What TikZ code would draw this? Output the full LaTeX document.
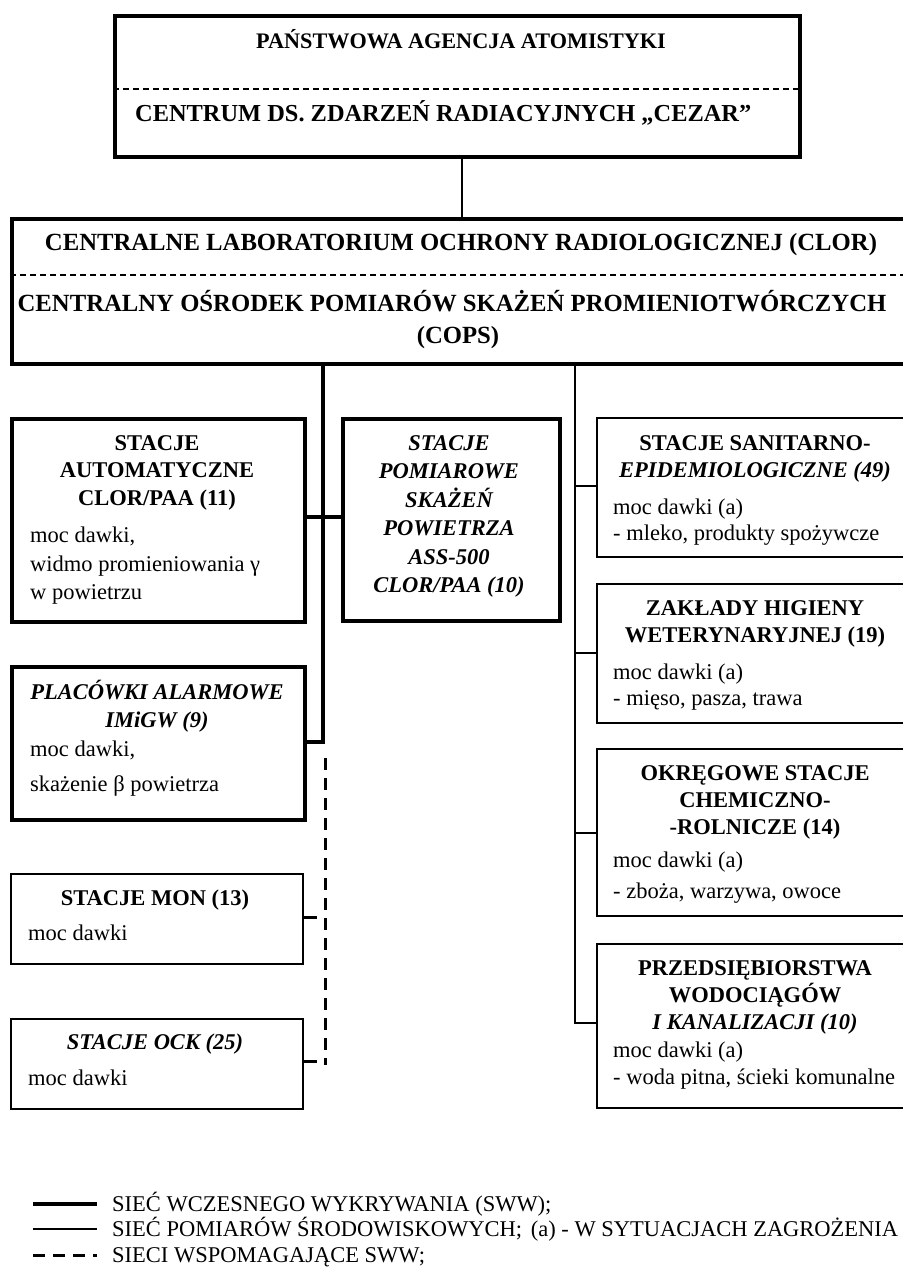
\documentclass[tikz,border=0pt]{standalone}
\usepackage{fontspec}
\setmainfont{Liberation Serif}
\begin{document}
\begin{tikzpicture}[x=1bp,y=-1bp,
  thickbox/.style={draw, line width=4bp, inner sep=0pt, anchor=north west},
  thinbox/.style={draw, line width=2bp, inner sep=0pt, anchor=north west},
  hd/.style={font=\fontsize{22.5bp}{27bp}\selectfont\bfseries, inner sep=0pt, anchor=base},
  hdi/.style={font=\fontsize{22.5bp}{27bp}\selectfont\bfseries\itshape, inner sep=0pt, anchor=base},
  bd/.style={font=\fontsize{22.5bp}{27bp}\selectfont, inner sep=0pt, anchor=base west},
  big/.style={font=\fontsize{24.7bp}{28bp}\selectfont\bfseries, inner sep=0pt, anchor=base},
  topa/.style={font=\fontsize{22.2bp}{28bp}\selectfont\bfseries, inner sep=0pt, anchor=base},
  topb/.style={font=\fontsize{24.4bp}{28bp}\selectfont\bfseries, inner sep=0pt, anchor=base west},
  thkline/.style={line width=4bp},
  thn/.style={line width=1.8bp},
  dsh/.style={line width=3bp, dash pattern=on 12bp off 8bp},
  sepline/.style={line width=1.2bp, dash pattern=on 6bp off 4bp}
]
\useasboundingbox (0,0) rectangle (903,1270);

% ---------- top box ----------
\node[thickbox, minimum width=685bp, minimum height=141bp] (top) at (113,14) {};
\draw[sepline] (top.west |- 0,89) -- (top.east |- 0,89);
\node[topa] (t1) at (461,48) {PAŃSTWOWA AGENCJA ATOMISTYKI};
\node[topb] (t2) at (135,121) {CENTRUM DS. ZDARZEŃ RADIACYJNYCH „CEZAR”};

% ---------- CLOR box ----------
\node[thickbox, minimum width=900bp, minimum height=145bp] (clor) at (10,217) {};
\draw[sepline] (clor.west |- 0,275) -- (903,275);
\node[big] (c1) at (461,250) {CENTRALNE LABORATORIUM OCHRONY RADIOLOGICZNEJ (CLOR)};
\node[big] (c2) at (452,311) {CENTRALNY OŚRODEK POMIARÓW SKAŻEŃ PROMIENIOTWÓRCZYCH};
\node[big] (c3) at (458,343) {(COPS)};

\draw[thn] (top.south -| 462,0) -- (clor.north -| 462,0);

% ---------- left column ----------
\node[thickbox, minimum width=293bp, minimum height=203bp] (auto) at (10,417) {};
\node[hd] (a1) at (157,450) {STACJE};
\node[hd] (a2) at (157,477.5) {AUTOMATYCZNE};
\node[hd] (a3) at (157,505) {CLOR/PAA (11)};
\node[bd] (a4) at (30,542) {moc dawki,};
\node[bd] (a5) at (30,571) {widmo promieniowania γ};
\node[bd] (a6) at (30,599) {w powietrzu};

\node[thickbox, minimum width=217bp, minimum height=202bp] (mid) at (341,417) {};
\node[hdi] (m1) at (449,450) {STACJE};
\node[hdi] (m2) at (449,478.5) {POMIAROWE};
\node[hdi] (m3) at (449,507) {SKAŻEŃ};
\node[hdi] (m4) at (449,535.5) {POWIETRZA};
\node[hdi] (m5) at (449,564) {ASS-500};
\node[hdi] (m6) at (449,592) {CLOR/PAA (10)};

\node[thickbox, minimum width=293bp, minimum height=153bp] (plac) at (10,665) {};
\node[hdi] (p1) at (157,699.5) {PLACÓWKI ALARMOWE};
\node[hdi] (p2) at (157,727.5) {IMiGW (9)};
\node[bd] (p3) at (30,756) {moc dawki,};
\node[bd] (p4) at (30,791) {skażenie β powietrza};

\node[thinbox, minimum width=292bp, minimum height=90bp] (mon) at (10,873) {};
\node[hd] (n1) at (155,905.5) {STACJE MON (13)};
\node[bd] (n2) at (28,940) {moc dawki};

\node[thinbox, minimum width=292bp, minimum height=90bp] (ock) at (10,1018) {};
\node[hdi] (o1) at (155,1049.5) {STACJE OCK (25)};
\node[bd] (o2) at (28,1085) {moc dawki};

% left bus
\coordinate (busA) at (323,517);
\coordinate (busP) at (323,742);
\coordinate (dTop) at (325,758);
\coordinate (dBot) at (325,1065);
\coordinate (cM) at (317,917);
\coordinate (cO) at (317,1061);
\draw[thkline] (clor.south -| busA) -- (busP) -- (plac.east |- busP);
\draw[thkline] (auto.east |- busA) -- (mid.west |- busA);
\draw[dsh] (dTop) -- (dBot);
\draw[line width=3bp] (mon.east |- cM) -- (cM);
\draw[line width=3bp] (ock.east |- cO) -- (cO);

% ---------- right column ----------
\node[thinbox, minimum width=320bp, minimum height=139bp] (san) at (596,417) {};
\node[hd] (s1) at (755,450.5) {STACJE SANITARNO-};
\node[hdi] (s2) at (755,477.5) {EPIDEMIOLOGICZNE (49)};
\node[bd] (s3) at (613,514) {moc dawki (a)};
\node[bd] (s4) at (613,540) {- mleko, produkty spożywcze};

\node[thinbox, minimum width=320bp, minimum height=139bp] (zak) at (596,583) {};
\node[hd] (z1) at (755,615.5) {ZAKŁADY HIGIENY};
\node[hd] (z2) at (755,642.5) {WETERYNARYJNEJ (19)};
\node[bd] (z3) at (613,679) {moc dawki (a)};
\node[bd] (z4) at (613,705) {- mięso, pasza, trawa};

\node[thinbox, minimum width=320bp, minimum height=167bp] (okr) at (596,748) {};
\node[hd] (k1) at (755,780.5) {OKRĘGOWE STACJE};
\node[hd] (k2) at (755,807.5) {CHEMICZNO-};
\node[hd] (k3) at (755,834.5) {-ROLNICZE (14)};
\node[bd] (k4) at (613,867) {moc dawki (a)};
\node[bd] (k5) at (613,898) {- zboża, warzywa, owoce};

\node[thinbox, minimum width=320bp, minimum height=164bp] (prz) at (596,943) {};
\node[hd] (r1) at (755,975.5) {PRZEDSIĘBIORSTWA};
\node[hd] (r2) at (755,1002.5) {WODOCIĄGÓW};
\node[hdi] (r3) at (755,1029.5) {I KANALIZACJI (10)};
\node[bd] (r4) at (613,1057) {moc dawki (a)};
\node[bd] (r5) at (613,1084) {- woda pitna, ścieki komunalne};

\coordinate (rS) at (575,486);
\coordinate (rZ) at (575,653);
\coordinate (rO) at (575,833);
\coordinate (rP) at (575,1023);
\draw[thn] (clor.south -| rS) -- (rP) -- (prz.west |- rP);
\draw[thn] (rS) -- (san.west |- rS);
\draw[thn] (rZ) -- (zak.west |- rZ);
\draw[thn] (rO) -- (okr.west |- rO);

% ---------- legend ----------
\coordinate (l1a) at (33,1204); \coordinate (l1b) at (97,1204);
\coordinate (l2a) at (33,1229); \coordinate (l2b) at (97,1229);
\coordinate (l3a) at (33,1255); \coordinate (l3b) at (97,1255);
\draw[thkline] (l1a) -- (l1b);
\draw[thn] (l2a) -- (l2b);
\draw[dsh] (l3a) -- (l3b);
\node[bd] (g1) at (112,1211) {SIEĆ WCZESNEGO WYKRYWANIA (SWW);};
\node[bd] (g2) at (112,1236) {SIEĆ POMIARÓW ŚRODOWISKOWYCH;\hspace{3bp} (a) - W SYTUACJACH ZAGROŻENIA};
\node[bd] (g3) at (112,1262) {SIECI WSPOMAGAJĄCE SWW;};
\end{tikzpicture}
\end{document}
